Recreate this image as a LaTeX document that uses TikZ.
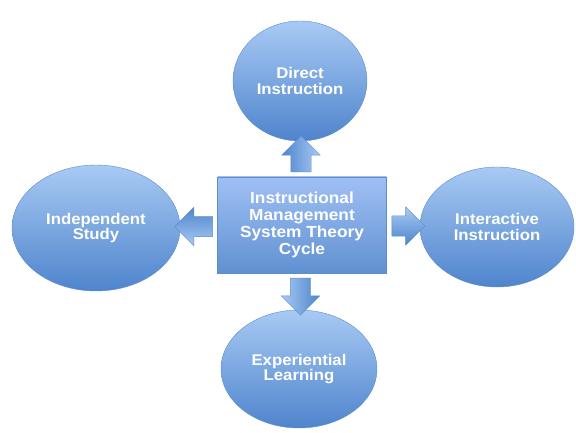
\documentclass[tikz,border=0pt]{standalone}
\usepackage{fontspec}
\newfontfamily\cyclefont[FakeStretch=1.08]{Liberation Sans}
\usepackage{tikz}
\usetikzlibrary{shapes.geometric,shapes.arrows}
\definecolor{lighttop}{HTML}{A8CAF4}
\definecolor{darkbot}{HTML}{4F84CC}
\definecolor{rimblue}{HTML}{5C8DCF}

\begin{document}
\begin{tikzpicture}[
  x=1pt, y=1pt,
  phase/.style={ellipse, draw=rimblue, thin, inner sep=0pt, outer sep=0pt,
    top color=lighttop, bottom color=darkbot, align=center, text=white,
    font=\cyclefont\bfseries\fontsize{15.5}{15.5}\selectfont},
  hub/.style={rectangle, draw=rimblue, thin, outer sep=0pt, minimum width=169pt, minimum height=96pt,
    top color=lighttop!95!blue, bottom color=darkbot!90!white, align=center, text=white,
    font=\cyclefont\bfseries\fontsize{16}{17}\selectfont},
  blockarrow/.style={single arrow, draw=rimblue, thin, inner xsep=0pt, inner ysep=10pt, outer sep=0pt,
    single arrow head extend=9pt, single arrow tip angle=90},
]
\useasboundingbox (0,0) rectangle (576,433);

% --- Hub and the four phases ---
\node[hub] (cycle) at (302,208) {Instructional\\Management\\System Theory\\Cycle};
\node[phase, minimum width=134pt, minimum height=120pt] (direct) at (300,352) {Direct\\Instruction};
\node[phase, minimum width=168pt, minimum height=126pt] (indep) at (96,205) {Independent\\Study};
\node[phase, minimum width=154pt, minimum height=120pt] (inter) at (497,206) {Interactive\\Instruction};
\node[phase, minimum width=156pt, minimum height=118pt] (exper) at (299,64) {Experiential\\Learning};

% --- Block arrows out of the hub ---
\path (cycle.north) -- (direct.south)
  node[midway, blockarrow, rotate=90, minimum height=36pt, left color=darkbot, right color=lighttop] (toDirect) {};
\path (cycle.south) -- (exper.north)
  node[midway, blockarrow, rotate=-90, minimum height=37pt, left color=lighttop, right color=darkbot] (toExper) {};
\path (cycle.west) -- (indep.east)
  node[midway, blockarrow, rotate=180, minimum height=38pt, top color=darkbot, bottom color=lighttop] (toIndep) {};
\path (cycle.east) -- (inter.west)
  node[midway, blockarrow, minimum height=33pt, top color=lighttop, bottom color=darkbot] (toInter) {};
\end{tikzpicture}
\end{document}
